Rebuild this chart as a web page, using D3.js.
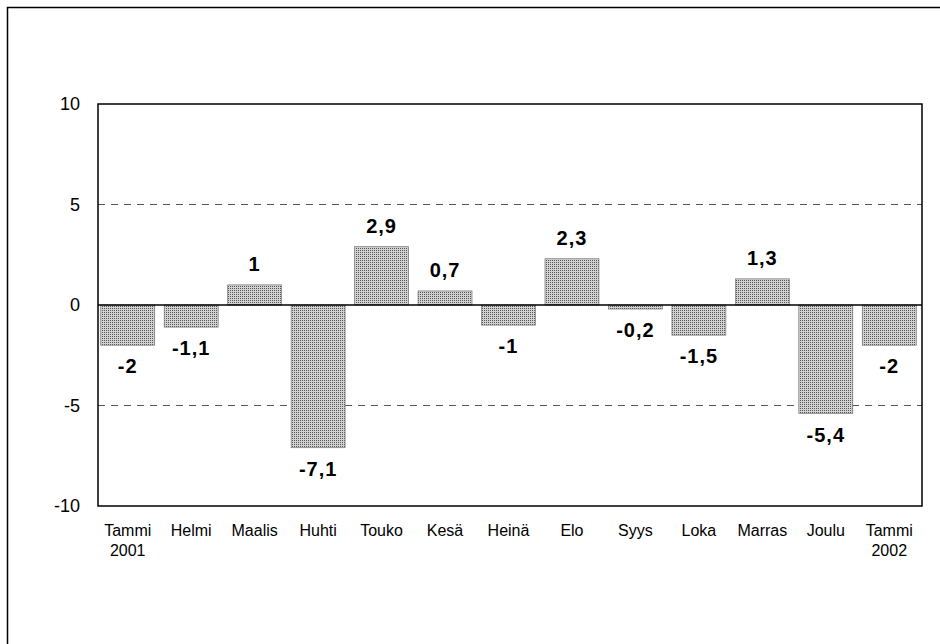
<!DOCTYPE html>
<html>
<head>
<meta charset="utf-8">
<script src="https://cdn.jsdelivr.net/npm/d3@7"></script>
<style>
html,body{margin:0;padding:0;background:#fff;}
svg{display:block;font-family:"Liberation Sans",Arial,sans-serif;}
</style>
</head>
<body>
<svg id="chart" width="940" height="644"></svg>
<script>
const months = ["Tammi","Helmi","Maalis","Huhti","Touko","Kesä","Heinä","Elo","Syys","Loka","Marras","Joulu","Tammi"];
const years = ["2001","","","","","","","","","","","","2002"];
const values = [-2,-1.1,1,-7.1,2.9,0.7,-1,2.3,-0.2,-1.5,1.3,-5.4,-2];
const valueLabels = ["-2","-1,1","1","-7,1","2,9","0,7","-1","2,3","-0,2","-1,5","1,3","-5,4","-2"];
const yTicks = [-10,-5,0,5,10];
const gridValues = [-5,5];

const svg = d3.select("#chart");
const L = 98, R = 922, T = 104, B = 506;

// pattern
const defs = svg.append("defs");
const pat = defs.append("pattern").attr("id","stip").attr("width",2).attr("height",2)
  .attr("patternUnits","userSpaceOnUse");
pat.append("rect").attr("width",2).attr("height",2).attr("fill","#d2d2d2");
pat.append("rect").attr("width",1).attr("height",1).attr("fill","#555");

// outer frame
svg.append("rect").attr("x",7.5).attr("y",7.5).attr("width",940).attr("height",640)
  .attr("fill","none").attr("stroke","#000").attr("stroke-width",1.5);

const idx = d3.range(months.length);
const x = d3.scaleBand().domain(idx).range([96, 921]).paddingInner(0.15).paddingOuter(0.075);
const y = d3.scaleLinear().domain([-10,10]).range([B, T]);

// grid
svg.append("g").selectAll("line").data(gridValues).join("line")
  .attr("x1",L).attr("x2",R).attr("y1",d=>y(d)).attr("y2",d=>y(d))
  .attr("stroke","#555").attr("stroke-width",1).attr("stroke-dasharray","7,6");

// bars
svg.append("g").selectAll("rect").data(idx).join("rect")
  .attr("x",i=>x(i)).attr("width",x.bandwidth())
  .attr("y",i=>y(Math.max(0,values[i])))
  .attr("height",i=>Math.abs(y(values[i])-y(0)))
  .attr("fill","url(#stip)").attr("stroke","#777").attr("stroke-width",0.7);

// zero line
svg.append("line").attr("x1",L).attr("x2",R).attr("y1",y(0)).attr("y2",y(0))
  .attr("stroke","#000").attr("stroke-width",1.5);

// plot frame
svg.append("rect").attr("x",L).attr("y",T).attr("width",R-L).attr("height",B-T)
  .attr("fill","none").attr("stroke","#000").attr("stroke-width",1.5);

// y axis labels
const yAxis = d3.axisLeft(y).tickValues(yTicks).tickFormat(d=>String(d)).tickSize(0).tickPadding(18);
const gy = svg.append("g").attr("transform",`translate(${L},0)`).call(yAxis);
gy.select(".domain").remove();
gy.selectAll("text").attr("font-size",18).attr("fill","#000")
  .attr("font-family","'Liberation Sans',Arial,sans-serif");

// x labels
const xl = svg.append("g").selectAll("text").data(idx).join("text")
  .attr("x",i=>x(i)+x.bandwidth()/2).attr("text-anchor","middle")
  .attr("font-size",16).attr("fill","#000");
xl.append("tspan").attr("x",i=>x(i)+x.bandwidth()/2).attr("y",536).text(i=>months[i]);
xl.append("tspan").attr("x",i=>x(i)+x.bandwidth()/2).attr("y",556).text(i=>years[i]);

// value labels
svg.append("g").selectAll("text").data(idx).join("text")
  .attr("x",i=>x(i)+x.bandwidth()/2)
  .attr("y",i=>values[i]>=0 ? y(values[i])-14 : y(values[i])+28)
  .attr("text-anchor","middle").attr("font-size",20).attr("font-weight","bold")
  .attr("letter-spacing",1).attr("fill","#000")
  .text(i=>valueLabels[i]);
</script>
</body>
</html>
